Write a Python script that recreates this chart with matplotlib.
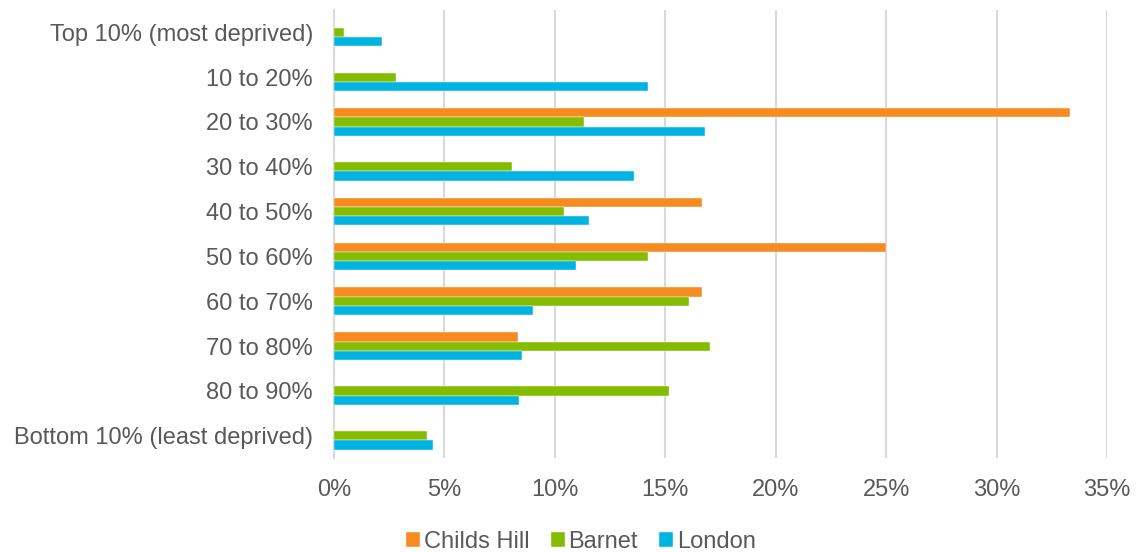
import matplotlib
matplotlib.use("Agg")
import matplotlib.pyplot as plt
import numpy as np
from matplotlib.ticker import FuncFormatter

plt.rcParams['font.family'] = ['Liberation Sans', 'DejaVu Sans']

categories = ['Top 10% (most deprived)', '10 to 20%', '20 to 30%', '30 to 40%',
              '40 to 50%', '50 to 60%', '60 to 70%', '70 to 80%', '80 to 90%',
              'Bottom 10% (least deprived)']
childs_hill = [0, 0, 33.33, 0, 16.67, 25.0, 16.67, 8.33, 0, 0]
barnet = [0.45, 2.82, 11.34, 8.04, 10.4, 14.2, 16.09, 17.04, 15.15, 4.23]
london = [2.19, 14.2, 16.78, 13.6, 11.55, 10.98, 9.02, 8.52, 8.4, 4.5]

series = [('Childs Hill', childs_hill, '#F68B20'),
          ('Barnet', barnet, '#84BD00'),
          ('London', london, '#00B4E1')]

fig = plt.figure(figsize=(11.39, 5.52), dpi=100)
ax = fig.add_axes([0.2932, 0.170, 0.6787, 0.812])

y = np.arange(len(categories))
h = 0.205
for k, (name, vals, col) in enumerate(series):
    ax.barh(y + (k - 1) * h, vals, height=h, color=col, label=name,
            edgecolor='white', linewidth=0.3, zorder=3)

ax.set_xlim(0, 35)
ax.set_ylim(len(categories) - 0.5, -0.5)
ax.set_xticks(np.arange(0, 36, 5))
ax.xaxis.set_major_formatter(FuncFormatter(lambda v, p: f'{v:.0f}%'))
ax.set_yticks(y)
ax.set_yticklabels(categories)
ax.grid(axis='x', color='#D9D9D9', linewidth=1.5, zorder=0)
for s in ['top', 'right', 'bottom']:
    ax.spines[s].set_visible(False)
ax.spines['left'].set_color('#D9D9D9')
ax.spines['left'].set_linewidth(1.5)
ax.tick_params(axis='both', length=0, labelsize=17, colors='#595959')
ax.tick_params(axis='x', pad=15)
ax.tick_params(axis='y', pad=15)

fig.legend(loc='lower center', bbox_to_anchor=(0.51, -0.04), ncol=3, frameon=False,
           fontsize=17, labelcolor='#595959', handlelength=0.6, handleheight=0.6,
           handletextpad=0.15, columnspacing=0.9)

fig.savefig('out.png', dpi=100)
